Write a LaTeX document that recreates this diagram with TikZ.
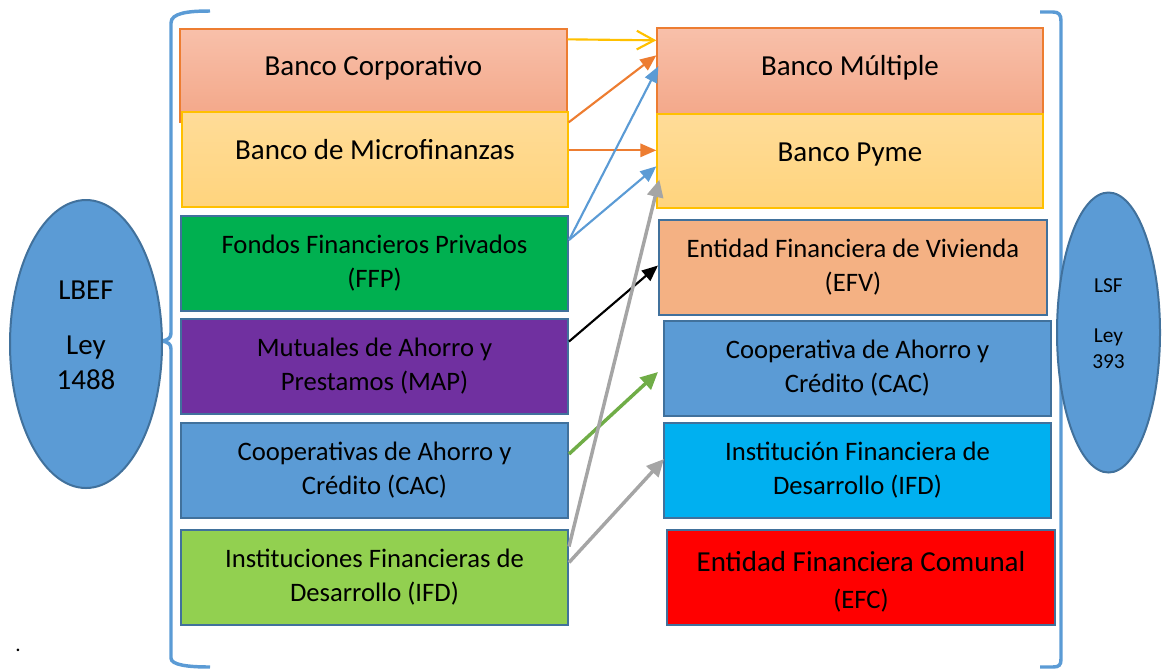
\documentclass[tikz,border=0pt]{standalone}
\usepackage{fontspec}
\setmainfont{Carlito}
\usetikzlibrary{arrows.meta,calc,shapes.geometric}

\definecolor{cOrange}{RGB}{237,125,49}
\definecolor{cGold}{RGB}{255,192,0}
\definecolor{cBlue}{RGB}{91,155,213}
\definecolor{cEdge}{RGB}{65,113,156}
\definecolor{cGrey}{RGB}{165,165,165}
\definecolor{cLeaf}{RGB}{112,173,71}
\definecolor{cGreen}{RGB}{0,176,80}
\definecolor{cPurple}{RGB}{112,48,160}
\definecolor{cLime}{RGB}{146,208,80}
\definecolor{cCyan}{RGB}{0,176,240}
\definecolor{cRed}{RGB}{255,0,0}
\definecolor{cPeach}{RGB}{244,177,131}
\definecolor{cSalmonTop}{RGB}{248,192,170}
\definecolor{cSalmonBot}{RGB}{243,166,135}
\definecolor{cSandTop}{RGB}{255,220,152}
\definecolor{cSandBot}{RGB}{255,212,125}

\tikzset{every picture/.style={line width=0.75pt}}
\tikzset{
  entbox/.style={draw=cEdge, line width=1.5pt, minimum width=290.25pt, minimum height=71.25pt, inner sep=0pt, align=center, font=\fontsize{20}{25.5}\selectfont},
  topbox/.style={line width=1pt, minimum width=289.5pt, minimum height=71.25pt, inner sep=0pt, align=center, text height=16pt, text depth=16pt, font=\fontsize{21.75}{26}\selectfont},
  salmon/.style={draw=cOrange, top color=cSalmonTop, bottom color=cSalmonBot},
  sand/.style={draw=cGold, top color=cSandTop, bottom color=cSandBot},
  lawoval/.style={ellipse, draw=cEdge, fill=cBlue, line width=1.5pt, inner sep=0pt, align=center, text depth=13.5pt},
  thinarr/.style={line width=1.6pt, -{Triangle[length=12pt,width=10pt]}},
  thickarr/.style={line width=2.6pt, -{Triangle[length=13pt,width=12pt]}},
  brace/.style={draw=cBlue, line width=2.6pt}
}

\begin{document}
\begin{tikzpicture}[x=0.75pt,y=0.75pt,yscale=-1,xscale=1]
\useasboundingbox (0,0) rectangle (1163,669);

%Shape: Brace left
\draw [brace] (210,11) .. controls (188,11) and (171,13) .. (171,23) -- (171,333) .. controls (171,338) and (168,340) .. (162,341) .. controls (168,342) and (171,344) .. (171,349) -- (171,658) .. controls (171,665) and (188,667) .. (210,667) ;
%Shape: Brace right
\draw [brace] (1040,12) -- (1053,12) .. controls (1059,12) and (1061,15) .. (1061,21) -- (1061,659) .. controls (1061,665) and (1059,667) .. (1053,667) -- (1040,667) ;

%Left column
\node [topbox, salmon, minimum width=290.25pt, minimum height=69.75pt] (corp) at (373.5,75.5) {Banco Corporativo};
\node [topbox, sand] (micro) at (375,159.5) {Banco de Microfinanzas};
\node [entbox, fill=cGreen] (ffp) at (374.5,263.5) {Fondos Financieros Privados\\(FFP)};
\node [entbox, fill=cPurple] (map) at (374.5,366) {Mutuales de Ahorro y\\Prestamos (MAP)};
\node [entbox, fill=cBlue] (cacl) at (374.5,470.5) {Cooperativas de Ahorro y\\Crédito (CAC)};
\node [entbox, fill=cLime] (ifdl) at (374.5,577) {Instituciones Financieras de\\Desarrollo (IFD)};

%Right column
\node [topbox, salmon] (mult) at (850,75.5) {Banco Múltiple};
\node [topbox, sand, minimum height=70.5pt] (pyme) at (850,161) {Banco Pyme};
\node [entbox, fill=cPeach, minimum width=291pt] (efv) at (853,267) {Entidad Financiera de Vivienda\\(EFV)};
\node [entbox, fill=cBlue] (cacr) at (857.5,368.5) {Cooperativa de Ahorro y\\Crédito (CAC)};
\node [entbox, fill=cCyan] (ifdr) at (857.5,470.5) {Institución Financiera de\\Desarrollo (IFD)};
\node [entbox, fill=cRed, minimum width=291pt, text height=50pt] (efc) at (861,577) {{\fontsize{21.75}{26}\selectfont Entidad Financiera Comunal}\\[2pt](EFC)};

%Laws
\node [lawoval, minimum width=114pt, minimum height=216pt, font=\fontsize{21.75}{26.25}\selectfont] (lbef) at (86,344) {LBEF\\[15pt]Ley\\1488};
\node [lawoval, minimum width=77.25pt, minimum height=210pt, font=\fontsize{16}{20}\selectfont] (lsf) at (1108.5,332.5) {LSF\\[17.5pt]Ley\\393};

%Straight Lines
\draw [cGold, line width=1.6pt, -{Straight Barb[length=13pt,width=14pt]}] ($(corp.north east)+(0,11)$) -- ($(mult.north west)+(0,13)$) ;
\draw [cOrange, thinarr] ($(micro.north east)+(0,11)$) -- ($(mult.north west)+(0,28)$) ;
\draw [cOrange, thinarr] ($(micro.north east)+(0,39)$) -- ($(pyme.north west)+(0,37)$) ;
\draw [cBlue, thinarr] ($(ffp.north east)+(0,25)$) -- ($(mult.north west)+(2,39)$) ;
\draw [cBlue, thinarr] ($(ffp.north east)+(0,25)$) -- ($(pyme.north west)+(0,53)$) ;
\draw [black, thinarr] ($(map.north east)+(0,24)$) -- ($(efv.north west)+(0,47)$) ;
\draw [cLeaf, thickarr] ($(cacl.north east)+(0,32)$) -- ($(cacr.north west)+(-5,52)$) ;
\draw [cGrey, thickarr] ($(ifdl.north east)+(0,18)$) -- ($(pyme.south west)+(3,-29)$) ;
\draw [cGrey, thickarr] ($(ifdl.north east)+(0,34)$) -- ($(ifdr.north west)+(1,37)$) ;

% Text Node
\node [font=\fontsize{16}{20}\selectfont, inner sep=0pt] (dot) at (18,650) {.};

\end{tikzpicture}
\end{document}
